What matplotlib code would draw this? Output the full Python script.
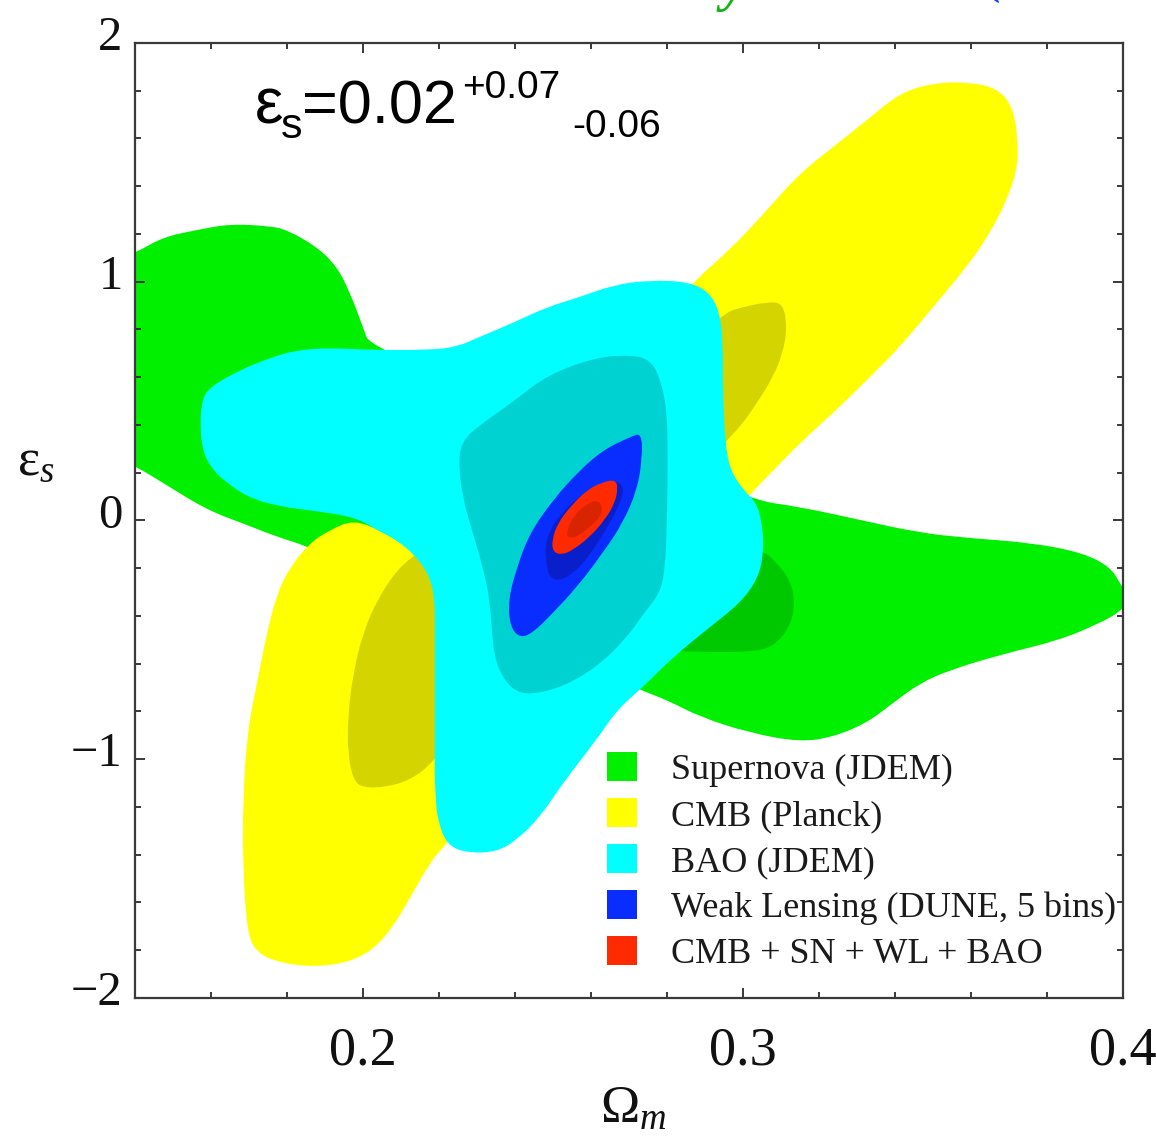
import numpy as np
import matplotlib
matplotlib.use("Agg")
import matplotlib.pyplot as plt
from matplotlib.path import Path
from matplotlib.patches import PathPatch, Patch
from matplotlib.ticker import MultipleLocator, FixedLocator
from matplotlib.transforms import ScaledTranslation

plt.rcParams['font.family'] = ['Liberation Serif', 'DejaVu Serif']
plt.rcParams['mathtext.fontset'] = 'custom'
plt.rcParams['mathtext.rm'] = 'Liberation Serif'
plt.rcParams['mathtext.it'] = 'Liberation Serif:italic'

# ---- confidence-region outlines in the (Omega_m, eps_s) plane ----
# Supernova (JDEM)
sn_outer_om = [0.136, 0.140, 0.1474, 0.1563, 0.1650, 0.1755, 0.1800, 0.1879, 0.1932, 0.1966,
               0.2000, 0.2018, 0.2518, 0.3018, 0.3150, 0.3308, 0.3466, 0.3589, 0.3763, 0.3895,
               0.3966, 0.3992, 0.4018, 0.3992, 0.3940, 0.3834, 0.3676, 0.3545, 0.3466, 0.3395,
               0.3326, 0.3237, 0.3150, 0.3018, 0.2887, 0.2800, 0.2729, 0.2281, 0.1860, 0.1774,
               0.1695, 0.1589, 0.1474, 0.1405, 0.136]
sn_outer_es = [1.10, 1.120, 1.187, 1.217, 1.242, 1.233, 1.217, 1.146, 1.062, 0.953,
               0.810, 0.727, 0.408, 0.086, 0.057, 0.002, -0.052, -0.073, -0.094, -0.136,
               -0.195, -0.262, -0.333, -0.383, -0.429, -0.501, -0.563, -0.626, -0.681, -0.764,
               -0.848, -0.907, -0.928, -0.890, -0.823, -0.752, -0.710, -0.404, -0.111, -0.069,
               -0.019, 0.044, 0.157, 0.224, 0.253]
sn_inner_om = [0.2939, 0.3053, 0.3089, 0.3124, 0.3137, 0.3124, 0.3079, 0.3018, 0.2887, 0.2755,
               0.2676, 0.2755]
sn_inner_es = [-0.103, -0.124, -0.178, -0.249, -0.346, -0.446, -0.530, -0.551, -0.551, -0.542,
               -0.375, -0.186]

# CMB (Planck)
cmb_outer_om = [0.2131, 0.2045, 0.1974, 0.1913, 0.1860, 0.1808, 0.1774, 0.1747, 0.1721, 0.1695,
                0.1684, 0.1684, 0.1695, 0.1721, 0.1782, 0.1868, 0.1958, 0.2026, 0.2079, 0.2131,
                0.2176, 0.2210, 0.2624, 0.3011, 0.3063, 0.3150, 0.3237, 0.3326, 0.3413, 0.3500,
                0.3589, 0.3650, 0.3694, 0.3721, 0.3724, 0.3711, 0.3668, 0.3589, 0.3500, 0.3413,
                0.3326, 0.3237, 0.3150, 0.3063, 0.2974, 0.2868, 0.2518]
cmb_outer_es = [-0.124, -0.040, 0.002, -0.040, -0.094, -0.195, -0.304, -0.471, -0.681, -0.890,
                -1.171, -1.451, -1.728, -1.812, -1.853, -1.870, -1.853, -1.799, -1.703, -1.560,
                -1.435, -1.368, -0.626, 0.098, 0.182, 0.325, 0.450, 0.588, 0.727, 0.894,
                1.062, 1.204, 1.342, 1.468, 1.581, 1.732, 1.812, 1.837, 1.832, 1.791,
                1.677, 1.564, 1.455, 1.301, 1.146, 0.999, 0.421]
cmb_inner_om = [0.2947, 0.3000, 0.3063, 0.3105, 0.3116, 0.3105, 0.3079, 0.3037, 0.2992, 0.2958,
                0.2518, 0.2184, 0.2124, 0.2063, 0.2000, 0.1974, 0.1960, 0.1960, 0.1974, 0.2000,
                0.2037, 0.2089, 0.2142, 0.2624]
cmb_inner_es = [0.869, 0.894, 0.915, 0.911, 0.810, 0.702, 0.601, 0.492, 0.392, 0.337,
                -0.417, -1.016, -1.087, -1.116, -1.120, -1.087, -0.974, -0.823, -0.639, -0.471,
                -0.333, -0.207, -0.136, 0.421]

# BAO (JDEM)
bao_outer_om = [0.1576, 0.1597, 0.1676, 0.1755, 0.1826, 0.1913, 0.2018, 0.2176, 0.2247, 0.2307,
                0.2394, 0.2484, 0.2571, 0.2658, 0.2755, 0.2860, 0.2913, 0.2939, 0.2947, 0.2947,
                0.2953, 0.2966, 0.3000, 0.3037, 0.3053, 0.3053, 0.3037, 0.2992, 0.2913, 0.2816,
                0.2737, 0.2668, 0.2618, 0.2526, 0.2466, 0.2405, 0.2352, 0.2281, 0.2229, 0.2203,
                0.2189, 0.2189, 0.2189, 0.2189, 0.2176, 0.2142, 0.2089, 0.2037, 0.1984, 0.1895,
                0.1782, 0.1695, 0.1632, 0.1605, 0.1579, 0.1571]
bao_outer_es = [0.505, 0.559, 0.630, 0.681, 0.714, 0.723, 0.714, 0.714, 0.727, 0.769,
                0.827, 0.894, 0.936, 0.986, 1.007, 0.999, 0.953, 0.869, 0.743, 0.534,
                0.325, 0.212, 0.128, 0.073, -0.040, -0.153, -0.249, -0.346, -0.446, -0.572,
                -0.697, -0.794, -0.911, -1.099, -1.242, -1.338, -1.388, -1.393, -1.368, -1.296,
                -1.171, -0.890, -0.471, -0.333, -0.237, -0.153, -0.082, -0.040, 0.010, 0.036,
                0.057, 0.098, 0.170, 0.212, 0.283, 0.392]
bao_inner_om = [0.2250, 0.2263, 0.2307, 0.2394, 0.2484, 0.2615, 0.2710, 0.2755, 0.2781, 0.2800,
                0.2802, 0.2800, 0.2795, 0.2781, 0.2742, 0.2689, 0.2615, 0.2526, 0.2439, 0.2394,
                0.2360, 0.2342, 0.2334, 0.2315, 0.2289, 0.2263]
bao_inner_es = [0.253, 0.337, 0.400, 0.496, 0.609, 0.685, 0.693, 0.672, 0.601, 0.463,
                0.253, 0.002, -0.207, -0.304, -0.383, -0.501, -0.614, -0.697, -0.731, -0.710,
                -0.639, -0.542, -0.333, -0.195, -0.052, 0.086]

# Weak Lensing (DUNE, 5 bins)
wl_outer_om = [0.2734, 0.2703, 0.2631, 0.2563, 0.2500, 0.2439, 0.2405, 0.2382, 0.2387, 0.2413,
               0.2447, 0.2500, 0.2563, 0.2631, 0.2684, 0.2721, 0.2734]
wl_outer_es = [0.367, 0.350, 0.295, 0.199, 0.086, -0.052, -0.195, -0.333, -0.446, -0.492,
               -0.471, -0.387, -0.279, -0.136, -0.010, 0.128, 0.253]
wl_inner_om = [0.2492, 0.2479, 0.2482, 0.2492, 0.2518, 0.2558, 0.2597, 0.2636, 0.2676, 0.2689,
               0.2650, 0.2571, 0.2518]
wl_inner_es = [-0.040, -0.103, -0.186, -0.241, -0.253, -0.216, -0.144, -0.048, 0.065, 0.149,
               0.170, 0.107, 0.023]

# CMB + SN + WL + BAO
all_outer_om = [0.2663, 0.2631, 0.2589, 0.2545, 0.2513, 0.2497, 0.2500, 0.2523, 0.2552, 0.2597,
                0.2636, 0.2663, 0.2671]
all_outer_es = [0.170, 0.161, 0.128, 0.057, -0.010, -0.082, -0.132, -0.144, -0.124, -0.069,
                0.002, 0.073, 0.140]
all_inner_om = [0.2615, 0.2631, 0.2624, 0.2597, 0.2563, 0.2539, 0.2536, 0.2552, 0.2584]
all_inner_es = [0.086, 0.057, 0.015, -0.027, -0.069, -0.073, -0.048, 0.015, 0.065]

probe_names = ['Supernova (JDEM)', 'CMB (Planck)', 'BAO (JDEM)',
               'Weak Lensing (DUNE, 5 bins)', 'CMB + SN + WL + BAO']
outer_colors = ['#00f000', '#ffff00', '#00ffff', '#0a2dff', '#ff2a00']
inner_colors = ['#00c800', '#d4d400', '#00d2d2', '#0a1fcc', '#d82400']

x_major = [0.2, 0.3, 0.4]
x_major_labels = ['0.2', '0.3', '0.4']
y_major = [-2, -1, 0, 1, 2]
y_major_labels = ['\u22122', '\u22121', '0', '1', '2']


def smooth_closed_path(xs, ys):
    """Closed quadratic B-spline path using the outline points as control points."""
    pts = np.column_stack([xs, ys])
    mids = (pts + np.roll(pts, -1, axis=0)) / 2.0
    verts = [mids[-1]]
    codes = [Path.MOVETO]
    for p, m in zip(pts, mids):
        verts += [p, m]
        codes += [Path.CURVE3, Path.CURVE3]
    verts.append(mids[-1])
    codes.append(Path.CLOSEPOLY)
    return Path(verts, codes)


fig = plt.figure(figsize=(11.56, 11.37), dpi=100)
ax = fig.add_axes([0.1168, 0.1223, 0.8547, 0.8399])

regions = [
    (sn_outer_om, sn_outer_es, sn_inner_om, sn_inner_es),
    (cmb_outer_om, cmb_outer_es, cmb_inner_om, cmb_inner_es),
    (bao_outer_om, bao_outer_es, bao_inner_om, bao_inner_es),
    (wl_outer_om, wl_outer_es, wl_inner_om, wl_inner_es),
    (all_outer_om, all_outer_es, all_inner_om, all_inner_es),
]
for k, (ox, oy, ix, iy) in enumerate(regions):
    ax.add_patch(PathPatch(smooth_closed_path(ox, oy), facecolor=outer_colors[k],
                           edgecolor='none', zorder=1 + 2 * k))
    ax.add_patch(PathPatch(smooth_closed_path(ix, iy), facecolor=inner_colors[k],
                           edgecolor='none', zorder=2 + 2 * k))

ax.set_xlim(0.14, 0.4)
ax.set_ylim(-2, 2)

ax.xaxis.set_major_locator(FixedLocator(x_major))
ax.xaxis.set_minor_locator(MultipleLocator(0.02))
ax.yaxis.set_major_locator(FixedLocator(y_major))
ax.yaxis.set_minor_locator(MultipleLocator(0.2))
ax.set_xticklabels(x_major_labels)
ax.set_yticklabels(y_major_labels)

ax.tick_params(which='both', direction='in', top=True, right=True,
               colors='#2a2a2a', width=1.3, zorder=20)
ax.tick_params(which='major', length=7)
ax.tick_params(which='minor', length=4)
ax.tick_params(axis='x', which='major', labelsize=39, pad=20, labelcolor='#111111')
ax.tick_params(axis='y', which='major', labelsize=35, pad=9, labelcolor='#111111')
for lab in ax.get_yticklabels():
    lab.set_transform(lab.get_transform() + ScaledTranslation(0, 7 / 72, fig.dpi_scale_trans))

for sp in ax.spines.values():
    sp.set_color('#3a3a3a')
    sp.set_linewidth(1.6)
    sp.set_zorder(20)

ax.set_xlabel(r'$\mathrm{\Omega}_{m}$', fontsize=38, color='#111111')
ax.xaxis.set_label_coords(0.504, -0.092)
ax.xaxis.label.set_va('top')
ax.set_ylabel(r'$\mathrm{ε}_{s}$', fontsize=38, rotation=0, color='#111111',
              ha='center', va='center')
ax.yaxis.set_label_coords(-0.100, 0.561)

handles = [Patch(facecolor=c, edgecolor='none') for c in outer_colors]
leg = ax.legend(handles, probe_names, loc='upper left', bbox_to_anchor=(0.4777, 0.258),
                frameon=False, fontsize=26, handlelength=0.83, handleheight=0.88,
                handletextpad=0.95, labelspacing=0.30, borderpad=0, borderaxespad=0)
leg.set_zorder(30)
for t in leg.get_texts():
    t.set_color('#1a1a1a')

# best-fit annotation, laid out as separate pieces in figure pixels
W, H = 1156.0, 1137.0
sans = ['Liberation Sans', 'DejaVu Sans']
pieces = [
    ('ε', 255, 123, 46),
    ('s', 281, 138, 31),
    ('=0.02', 302, 123, 44),
    ('+0.07', 462, 98, 28),
    ('-0.06', 572, 137, 28),
]
for txt, px, py, fs in pieces:
    fig.text(px / W, 1 - py / H, txt, family=sans, fontsize=fs, color='black',
             ha='left', va='baseline')

# fragments of the slide heading cut off by the top edge
fig.text(722 / W, 1.0, 'y', family=['Liberation Serif'], fontsize=40, style='italic',
         fontweight='bold', color='#14b414', ha='left', va='baseline')
fig.text(982 / W, 1 + 9 / H, '(', family=['Liberation Serif'], fontsize=40,
         color='#1a3cff', ha='left', va='baseline')

fig.savefig('out.png', dpi=100)
